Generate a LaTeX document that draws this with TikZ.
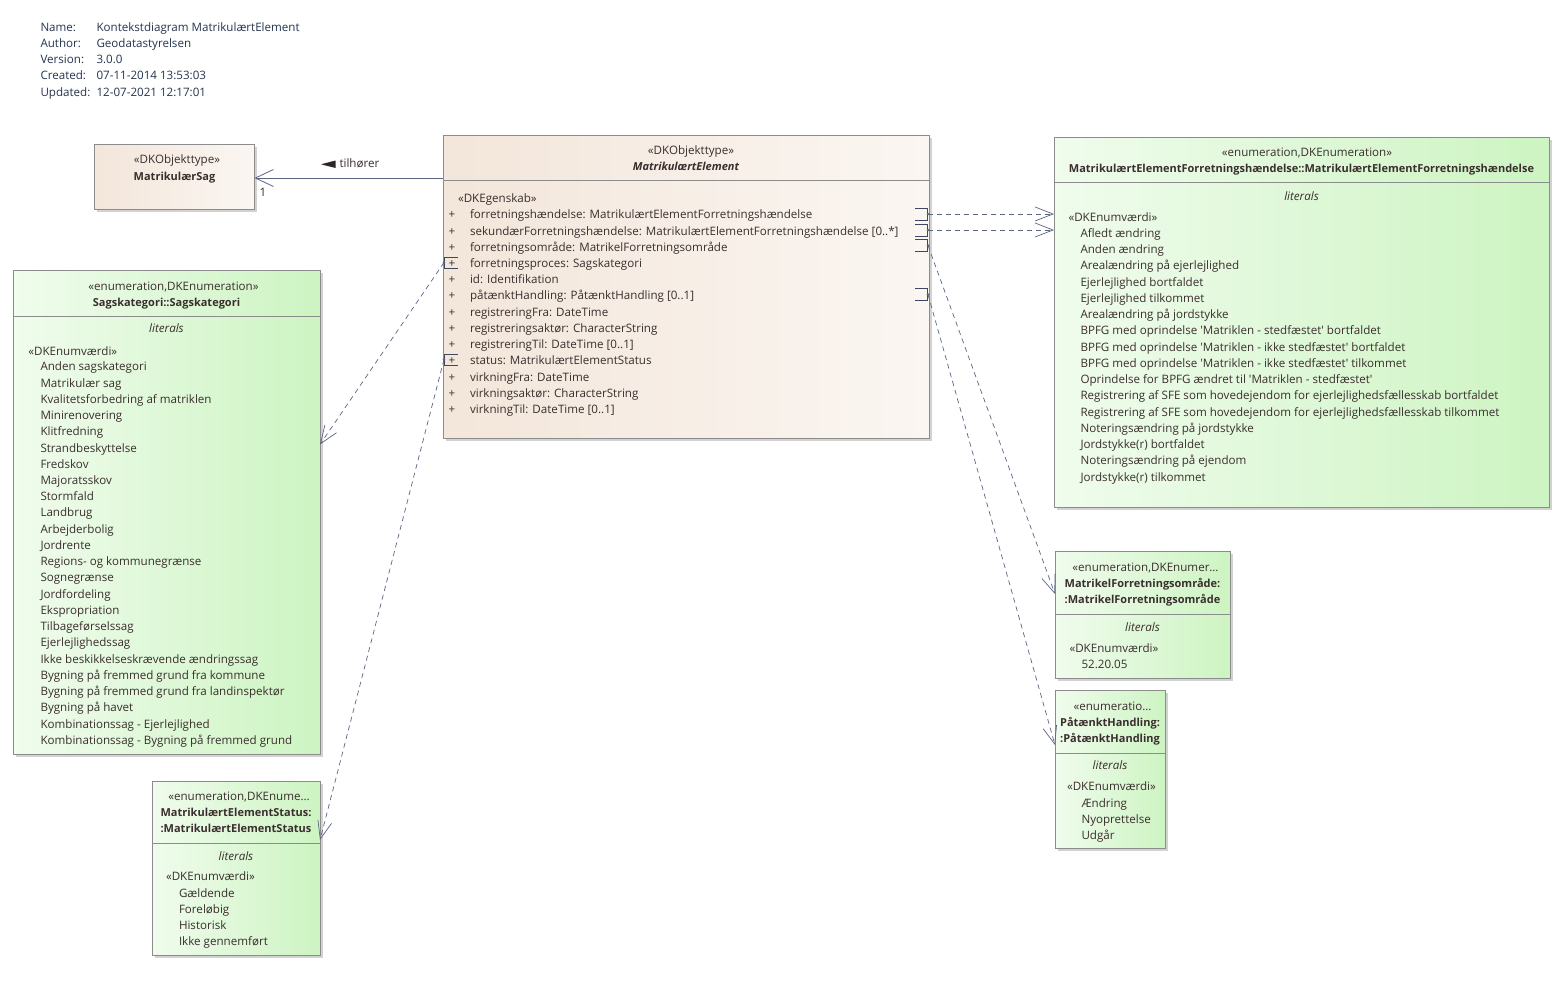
\documentclass[tikz,border=0pt]{standalone}
\usepackage{fontspec}
\setmainfont{Open Sans}
\usetikzlibrary{arrows.meta,shadows}
\definecolor{txt}{HTML}{3A2E2E}
\definecolor{meta}{HTML}{26354F}
\definecolor{con}{HTML}{5C6485}
\definecolor{bord}{HTML}{8C8C8C}
\definecolor{gL}{HTML}{F0FCED}
\definecolor{gR}{HTML}{CDF4C2}
\definecolor{bL}{HTML}{F3E6DA}
\definecolor{bR}{HTML}{FBF6F2}
\newcommand\LitList[4]{\foreach \t [count=\i] in {#4} {\node[ln] (#3\i) at (#1, {#2+16.24*(\i-1)}) {\t};}}
\newcommand\q{\textquotesingle}
\begin{document}
\begin{tikzpicture}[x=1pt,y=-1pt,
  every node/.style={inner sep=0pt, outer sep=0pt, text=txt, font=\fontsize{11.6}{14}\selectfont},
  ln/.style={anchor=base west, yshift=-0.8pt},
  ctr/.style={anchor=base, yshift=-0.8pt},
  ttl/.style={anchor=base, yshift=-0.8pt, font=\fontsize{11}{14}\selectfont\bfseries},
  lit/.style={anchor=base, yshift=-0.8pt, font=\fontsize{11.6}{14}\selectfont\itshape},
  mt/.style={anchor=base west, yshift=-0.8pt, text=meta},
  bx/.style={draw=bord, line width=0.8pt, anchor=north west, drop shadow={shadow xshift=2.5pt,shadow yshift=-2.5pt,fill=black!35}},
  enumbox/.style={bx, left color=gL, right color=gR},
  clsbox/.style={bx, left color=bL, right color=bR},
  sep/.style={draw=bord, line width=0.8pt},
  dep/.style={draw=con, line width=0.7pt, dash pattern=on 5pt off 4pt, -{Straight Barb[length=18pt,width=14pt,line width=0.7pt]}},
  assoc/.style={draw=con, line width=0.8pt, -{Straight Barb[length=18pt,width=17pt,line width=0.8pt]}},
  port/.style={draw=con!70!black, line width=0.7pt},
]
\useasboundingbox[fill=white] (0,0) rectangle (1561,993);

% metadata
\node[mt] (mn1) at (40.5,30.5) {Name:};
\node[mt] (mn2) at (40.5,46.7) {Author:};
\node[mt] (mn3) at (40.5,62.9) {Version:};
\node[mt] (mn4) at (40.5,79.1) {Created:};
\node[mt] (mn5) at (40.5,95.3) {Updated:};
\node[mt] (mv1) at (96.5,30.5) {Kontekstdiagram MatrikulærtElement};
\node[mt] (mv2) at (96.5,46.7) {Geodatastyrelsen};
\node[mt] (mv3) at (96.5,62.9) {3.0.0};
\node[mt] (mv4) at (96.5,79.1) {07-11-2014 13:53:03};
\node[mt] (mv5) at (96.5,95.3) {12-07-2021 12:17:01};

% boxes
\node[clsbox, minimum width=160pt, minimum height=65pt] (ms) at (94.5,144.5) {};
\node[clsbox, minimum width=486pt, minimum height=303pt] (me) at (443,135) {};
\node[enumbox, minimum width=495pt, minimum height=370pt] (fh) at (1054,137) {};
\node[enumbox, minimum width=307pt, minimum height=484pt] (sk) at (13,270) {};
\node[enumbox, minimum width=175pt, minimum height=127pt] (fo) at (1055,551.5) {};
\node[enumbox, minimum width=110.5pt, minimum height=158.5pt] (ph) at (1055,690) {};
\node[enumbox, minimum width=168pt, minimum height=174pt] (st) at (152,781) {};

% dividers
\draw[sep] (me.west |- 0,180.5) -- (me.east |- 0,180.5);
\draw[sep] (fh.west |- 0,182.5) -- (fh.east |- 0,182.5);
\draw[sep] (sk.west |- 0,316.5) -- (sk.east |- 0,316.5);
\draw[sep] (fo.west |- 0,614.5) -- (fo.east |- 0,614.5);
\draw[sep] (ph.west |- 0,753) -- (ph.east |- 0,753);
\draw[sep] (st.west |- 0,843) -- (st.east |- 0,843);

% MatrikulaerSag
\node[ctr] (msS) at (177,162.3) {«DKObjekttype»};
\node[ttl] (msN) at (174.5,180) {MatrikulærSag};

% MatrikulaertElement
\node[ctr] (meS) at (691,153.3) {«DKObjekttype»};
\node[ttl, font=\fontsize{11}{14}\selectfont\bfseries\itshape] (meN) at (686,170) {MatrikulærtElement};
\node[ln] (meE) at (458,201.8) {«DKEgenskab»};
\foreach \t [count=\i] in {{forretningshændelse: MatrikulærtElementForretningshændelse},
 {sekundærForretningshændelse: MatrikulærtElementForretningshændelse [0..*]},
 {forretningsområde: MatrikelForretningsområde},
 {forretningsproces: Sagskategori},
 {id: Identifikation},
 {påtænktHandling: PåtænktHandling [0..1]},
 {registreringFra: DateTime},
 {registreringsaktør: CharacterString},
 {registreringTil: DateTime [0..1]},
 {status: MatrikulærtElementStatus},
 {virkningFra: DateTime},
 {virkningsaktør: CharacterString},
 {virkningTil: DateTime [0..1]}}
 {\node[ctr] (mep\i) at (452, {218+16.22*(\i-1)}) {+};
  \node[ln] (mea\i) at (470, {218+16.22*(\i-1)}) {\t};}

% Forretningshaendelse
\node[ctr] (fhS) at (1307,156) {«enumeration,DKEnumeration»};
\node[ttl] (fhN) at (1301.5,172) {MatrikulærtElementForretningshændelse::MatrikulærtElementForretningshændelse};
\node[lit] (fhL) at (1301.5,199.5) {literals};
\node[ln] (fhE) at (1068.5,220.7) {«DKEnumværdi»};
\LitList{1080.5}{236.7}{fhv}{{Afledt ændring},{Anden ændring},{Arealændring på ejerlejlighed},{Ejerlejlighed bortfaldet},{Ejerlejlighed tilkommet},{Arealændring på jordstykke},{BPFG med oprindelse \q Matriklen - stedfæstet\q{} bortfaldet},{BPFG med oprindelse \q Matriklen - ikke stedfæstet\q{} bortfaldet},{BPFG med oprindelse \q Matriklen - ikke stedfæstet\q{} tilkommet},{Oprindelse for BPFG ændret til \q Matriklen - stedfæstet\q},{Registrering af SFE som hovedejendom for ejerlejlighedsfællesskab bortfaldet},{Registrering af SFE som hovedejendom for ejerlejlighedsfællesskab tilkommet},{Noteringsændring på jordstykke},{Jordstykke(r) bortfaldet},{Noteringsændring på ejendom},{Jordstykke(r) tilkommet}}

% Sagskategori
\node[ctr] (skS) at (173.5,289.5) {«enumeration,DKEnumeration»};
\node[ttl] (skN) at (166.5,305.5) {Sagskategori::Sagskategori};
\node[lit] (skL) at (166.5,332) {literals};
\node[ln] (skE) at (28.3,354.3) {«DKEnumværdi»};
\LitList{40.5}{370}{skv}{{Anden sagskategori},{Matrikulær sag},{Kvalitetsforbedring af matriklen},{Minirenovering},{Klitfredning},{Strandbeskyttelse},{Fredskov},{Majoratsskov},{Stormfald},{Landbrug},{Arbejderbolig},{Jordrente},{Regions- og kommunegrænse},{Sognegrænse},{Jordfordeling},{Ekspropriation},{Tilbageførselssag},{Ejerlejlighedssag},{Ikke beskikkelseskrævende ændringssag},{Bygning på fremmed grund fra kommune},{Bygning på fremmed grund fra landinspektør},{Bygning på havet},{Kombinationssag - Ejerlejlighed},{Kombinationssag - Bygning på fremmed grund}}

% MatrikelForretningsomraade
\node[ctr] (foS) at (1145.5,570.5) {«enumeration,DKEnumer…};
\node[ttl] (foN1) at (1142.5,587) {MatrikelForretningsområde:};
\node[ttl] (foN2) at (1142.5,603) {:MatrikelForretningsområde};
\node[lit] (foL) at (1142.5,631) {literals};
\node[ln] (foE) at (1069.5,652) {«DKEnumværdi»};
\node[ln] (fov1) at (1081.5,667.5) {52.20.05};

% PaataenktHandling
\node[ctr] (phS) at (1112.5,709.5) {«enumeratio…};
\node[ttl] (phN1) at (1110,725.5) {PåtænktHandling:};
\node[ttl] (phN2) at (1110,741.5) {:PåtænktHandling};
\node[lit] (phL) at (1110,769) {literals};
\node[ln] (phE) at (1067,790) {«DKEnumværdi»};
\LitList{1081.5}{806.5}{phv}{{Ændring},{Nyoprettelse},{Udgår}}

% Status
\node[ctr] (stS) at (239,799.5) {«enumeration,DKEnume…};
\node[ttl] (stN1) at (236,815.5) {MatrikulærtElementStatus:};
\node[ttl] (stN2) at (236,831.5) {:MatrikulærtElementStatus};
\node[lit] (stL) at (236,860) {literals};
\node[ln] (stE) at (166,880) {«DKEnumværdi»};
\LitList{179}{896.3}{stv}{{Gældende},{Foreløbig},{Historisk},{Ikke gennemført}}

% ports right
\foreach \y/\n in {214/pa,230/pb,245.5/pc,294.5/pd}{
  \draw[port] (915,\y-6) -- (927.5,\y-6) -- (927.5,\y+6) -- (915,\y+6);
  \coordinate (\n) at (928,\y);
  \fill[con] (\n) circle (1.3pt);
}
% ports left
\foreach \y/\n in {262.5/pe,359.5/pf}{
  \draw[port] (458,\y-5) -- (444.5,\y-5) -- (444.5,\y+6) -- (458,\y+6);
  \coordinate (\n) at (444,\y);
  \fill[con] (\n) circle (1.3pt);
}

% connectors
\draw[dep] (pa) -- (fh.west |- pa);
\draw[dep] (pb) -- (fh.west |- pb);
\draw[dep] (pc) -- (fo.west |- 0,594);
\draw[dep] (pd) -- (ph.west |- 0,745);
\draw[dep] (pe) -- (sk.east |- 0,444.5);
\draw[dep] (pf) -- (st.east |- 0,840);

% association
\draw[assoc] (me.west |- 0,178) -- (ms.east |- 0,178);
\fill[txt!80!black] (321,164.3) -- (335.5,160.5) -- (335.5,168) -- cycle;
\node[ln] (asL) at (339.5,167) {tilhører};
\node[ln] (asM) at (259.5,195.5) {1};
\end{tikzpicture}
\end{document}
